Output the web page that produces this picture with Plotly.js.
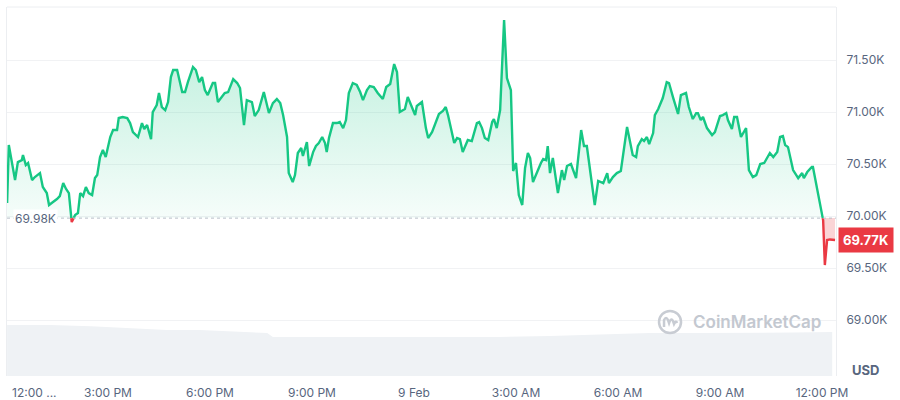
<!DOCTYPE html>
<html>
<head>
<meta charset="utf-8">
<script src="https://cdn.plot.ly/plotly-3.0.1.min.js"></script>
<style>html,body{margin:0;padding:0;background:#fff;}#chart{width:900px;height:400px;}</style>
</head>
<body>
<div id="chart"></div>
<script>
// Minutes since 12:00 PM, 8 Feb
const minutes = [2,5,16,21,28,30,35,39,46,51,60,65,72,76,83,90,95,101,106,111,116,122,127,131,136,141,146,152,157,161,166,171,176,184,189,196,199,206,214,219,224,233,240,244,249,256,259,266,270,275,281,286,291,295,302,305,311,316,321,330,335,341,346,351,356,365,369,374,381,386,392,401,408,413,420,425,434,439,446,455,464,471,478,484,489,496,499,506,510,515,521,524,531,535,542,547,552,558,563,566,570,577,584,589,595,600,605,612,619,625,630,637,642,649,656,665,671,678,685,690,695,704,709,716,722,725,734,741,745,752,757,764,771,776,780,791,796,801,806,812,815,822,831,835,840,845,851,858,861,866,872,879,884,891,895,900,905,911,916,921,925,930,937,944,948,953,956,960,965,974,981,985,990,997,1006,1015,1020,1025,1039,1045,1054,1061,1064,1071,1078,1085,1096,1101,1106,1112,1115,1122,1126,1131,1135,1142,1145,1151,1156,1159,1166,1170,1177,1186,1191,1200,1205,1212,1218,1221,1226,1230,1237,1246,1251,1260,1265,1271,1274,1281,1285,1290,1297,1302,1306,1311,1318,1324,1331,1338,1348,1354,1361,1366,1371,1375,1380,1389,1398,1405,1408,1414,1422,1424,1442,1445,1449,1454,1463];
// BTC price, USD
const prices = [70125,70683,70346,70519,70538,70587,70490,70510,70346,70375,70413,70279,70221,70106,70135,70163,70192,70317,70260,70221,69942,70010,70029,70221,70192,70279,70221,70202,70365,70394,70567,70635,70567,70760,70827,70827,70942,70952,70942,70894,70808,70760,70894,70837,70875,70740,71000,71067,71183,71048,71019,71096,71336,71404,71404,71327,71192,71192,71288,71433,71404,71288,71336,71211,71163,71279,71279,71096,71144,71183,71192,71317,71279,71231,70875,71115,71096,70962,71019,71192,70990,71086,71125,71086,70971,70760,70413,70327,70394,70606,70654,70577,70712,70481,70615,70673,70702,70760,70702,70615,70750,70894,70894,70904,70846,70923,71183,71279,71260,71192,71115,71211,71250,71240,71183,71125,71240,71269,71461,71385,71000,71029,71144,71058,70971,71058,71096,70846,70750,70808,70875,70981,71010,71048,70971,70702,70750,70740,70615,70692,70731,70721,70894,70904,70846,70750,70731,70904,70933,70846,71019,71885,71327,71211,70433,70510,70202,70106,70462,70606,70558,70327,70423,70510,70548,70538,70673,70413,70558,70221,70442,70346,70481,70500,70365,70827,70673,70673,70106,70337,70317,70413,70317,70375,70413,70433,70856,70731,70587,70567,70673,70740,70721,70760,70692,70798,70971,71029,71096,71135,71288,71279,71144,70981,71163,71183,71048,70933,70990,70990,70923,70952,70846,70779,70808,70962,70971,70990,70923,70837,70952,70952,70760,70808,70846,70442,70375,70394,70500,70510,70606,70567,70615,70760,70769,70683,70663,70442,70365,70413,70365,70423,70471,70471,69960,69529,69769,69775,69770];
const openPrice = 69980;
// 24h volume (billions USD)
const volMinutes = [2,78,150,224,284,342,400,461,471,577,680,784,870,960,1050,1136,1220,1313,1390,1458];
const volumes = [27.6,27.6,27.0,26.0,24.9,24.9,24.2,23.3,21.1,21.1,20.9,20.9,21.2,21.7,22.5,23.3,23.3,23.3,23.6,23.8];
const tickVals = [180,360,540,720,900,1080,1260,1440];
const tickText = ['3:00 PM','6:00 PM','9:00 PM','9 Feb','3:00 AM','6:00 AM','9:00 AM','12:00 PM'];
const yTickVals = [69000,69500,70000,70500,71000,71500];
const yTickText = ['69.00K','69.50K','70.00K','70.50K','71.00K','71.50K'];

const GREEN = '#16c784', RED = '#ea3943', GRAY = '#58667e';
// split series at the open price for colouring
const xs=[], up=[], lo=[], gL=[], rL=[], bs=[];
for (let i=0;i<prices.length;i++){
  if (i>0 && (prices[i-1]-openPrice)*(prices[i]-openPrice)<0){
    const f=(openPrice-prices[i-1])/(prices[i]-prices[i-1]);
    xs.push(minutes[i-1]+f*(minutes[i]-minutes[i-1]));
    up.push(openPrice); lo.push(openPrice); gL.push(openPrice); rL.push(openPrice); bs.push(openPrice);
  }
  const p=prices[i];
  xs.push(minutes[i]); bs.push(openPrice);
  up.push(Math.max(p,openPrice)); lo.push(Math.min(p,openPrice));
  gL.push(p>=openPrice?p:null); rL.push(p<=openPrice?p:null);
}
const last = prices[prices.length-1];
const fmtK = v => (v/1000).toFixed(2)+'K';

const traces = [
  {x:volMinutes,y:volumes,yaxis:'y2',type:'scatter',mode:'lines',line:{width:0},fill:'tozeroy',fillcolor:'#eff2f5',hoverinfo:'skip'},
  {x:xs,y:bs,type:'scatter',mode:'lines',line:{width:0},hoverinfo:'skip'},
  {x:xs,y:up,type:'scatter',mode:'lines',line:{width:0},fill:'tonexty',
   fillgradient:{type:'vertical',colorscale:[[0,'rgba(22,199,132,0.04)'],[1,'rgba(22,199,132,0.30)']]},hoverinfo:'skip'},
  {x:xs,y:bs,type:'scatter',mode:'lines',line:{width:0},hoverinfo:'skip'},
  {x:xs,y:lo,type:'scatter',mode:'lines',line:{width:0},fill:'tonexty',fillcolor:'rgba(234,57,67,0.22)',hoverinfo:'skip'},
  {x:xs,y:gL,type:'scatter',mode:'lines',line:{color:GREEN,width:2.4},connectgaps:false},
  {x:xs,y:rL,type:'scatter',mode:'lines',line:{color:RED,width:2.4},connectgaps:false}
];

const font = {family:'Inter, "Open Sans", sans-serif', size:12, color:GRAY};
const layout = {
  width:900,height:400,
  margin:{l:7,r:64,t:7,b:24,pad:0},
  paper_bgcolor:'#fff',plot_bgcolor:'#fff',
  showlegend:false,
  font:font,
  xaxis:{range:[1.8,1464.7],tickvals:tickVals,ticktext:tickText,showgrid:false,zeroline:false,showline:false,ticks:'',tickfont:font,ticklabelstandoff:8,fixedrange:true},
  yaxis:{side:'right',range:[68462,72010],tickvals:yTickVals,ticktext:yTickText,gridcolor:'#f1f2f4',gridwidth:1,
         showline:true,mirror:true,linecolor:'#eceef1',zeroline:false,ticks:'',tickfont:font,ticklabelstandoff:7,fixedrange:true},
  yaxis2:{overlaying:'y',range:[0,200],visible:false,fixedrange:true},
  shapes:[
    {type:'line',xref:'paper',yref:'paper',x0:0,x1:1,y0:1,y1:1,line:{color:'#eceef1',width:1}},
    {type:'line',xref:'paper',yref:'y',x0:0,x1:1,y0:openPrice,y1:openPrice,line:{color:'#b8bec8',width:1,dash:'dot'}},
    {type:'circle',xref:'paper',yref:'paper',x0:0.7865,x1:0.8131,y0:0.1165,y1:0.1761,line:{color:'#c8ccd3',width:2.5}},
    {type:'path',xref:'paper',yref:'paper',xsizemode:'pixel',ysizemode:'pixel',xanchor:0.7998,yanchor:0.1463,
     path:'M -6 -5 L -6 2 Q -4 6 -2 2 L -1 -1 Q 1 5 3 1 L 4 -2 Q 6 2 7 -1',line:{color:'#c8ccd3',width:2.5}}
  ],
  annotations:[
    {xref:'paper',yref:'y',x:0.007,y:openPrice,xanchor:'left',yanchor:'middle',text:fmtK(openPrice),showarrow:false,
     bgcolor:'#ffffff',borderpad:1,font:{family:font.family,size:12,color:GRAY}},
    {xref:'paper',yref:'y',x:1,xshift:2,y:last,xanchor:'left',yanchor:'middle',text:'<b>'+fmtK(last)+'</b>',showarrow:false,
     bgcolor:RED,borderpad:4,font:{family:font.family,size:13,color:'#ffffff'}},
    {xref:'paper',yref:'paper',x:1,xshift:14,y:0.015,xanchor:'left',yanchor:'middle',text:'<b>USD</b>',showarrow:false,
     font:{family:font.family,size:13,color:GRAY}},
    {xref:'paper',yref:'paper',x:0.004,y:0,yshift:-16,xanchor:'left',yanchor:'middle',text:'12:00 ...',showarrow:false,
     font:{family:font.family,size:12,color:GRAY}},
    {xref:'paper',yref:'paper',x:0.8255,y:0.146,xanchor:'left',yanchor:'middle',text:'CoinMarketCap',showarrow:false,
     font:{family:font.family,size:17,color:'#c3c8d0',weight:600}}
  ]
};
Plotly.newPlot('chart',traces,layout,{displayModeBar:false,staticPlot:true});
</script>
</body>
</html>
